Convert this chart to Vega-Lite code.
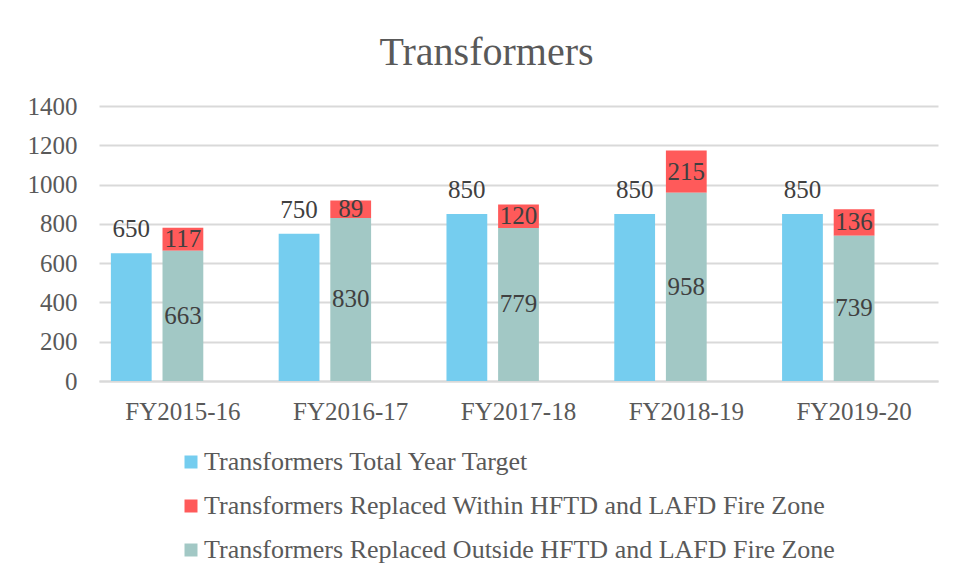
{
  "$schema": "https://vega.github.io/schema/vega-lite/v6.json",
  "autosize": {"type": "none"},
  "width": 839,
  "height": 275,
  "padding": {"left": 99, "top": 106, "right": 16, "bottom": 199},
  "background": "white",
  "title": {
    "text": "Transformers",
    "font": "Liberation Serif",
    "fontSize": 40,
    "fontWeight": "normal",
    "color": "#595959",
    "anchor": "middle",
    "dx": -32,
    "offset": 21
  },
  "config": {
    "view": {"stroke": null},
    "font": "Liberation Serif"
  },
  "data": {
    "values": [
      {"year": "FY2015-16", "series": "Transformers Total Year Target", "slot": "a", "value": 650},
      {"year": "FY2016-17", "series": "Transformers Total Year Target", "slot": "a", "value": 750},
      {"year": "FY2017-18", "series": "Transformers Total Year Target", "slot": "a", "value": 850},
      {"year": "FY2018-19", "series": "Transformers Total Year Target", "slot": "a", "value": 850},
      {"year": "FY2019-20", "series": "Transformers Total Year Target", "slot": "a", "value": 850},
      {"year": "FY2015-16", "series": "Transformers Replaced Within HFTD and LAFD Fire Zone", "slot": "b", "value": 117},
      {"year": "FY2016-17", "series": "Transformers Replaced Within HFTD and LAFD Fire Zone", "slot": "b", "value": 89},
      {"year": "FY2017-18", "series": "Transformers Replaced Within HFTD and LAFD Fire Zone", "slot": "b", "value": 120},
      {"year": "FY2018-19", "series": "Transformers Replaced Within HFTD and LAFD Fire Zone", "slot": "b", "value": 215},
      {"year": "FY2019-20", "series": "Transformers Replaced Within HFTD and LAFD Fire Zone", "slot": "b", "value": 136},
      {"year": "FY2015-16", "series": "Transformers Replaced Outside HFTD and LAFD Fire Zone", "slot": "b", "value": 663},
      {"year": "FY2016-17", "series": "Transformers Replaced Outside HFTD and LAFD Fire Zone", "slot": "b", "value": 830},
      {"year": "FY2017-18", "series": "Transformers Replaced Outside HFTD and LAFD Fire Zone", "slot": "b", "value": 779},
      {"year": "FY2018-19", "series": "Transformers Replaced Outside HFTD and LAFD Fire Zone", "slot": "b", "value": 958},
      {"year": "FY2019-20", "series": "Transformers Replaced Outside HFTD and LAFD Fire Zone", "slot": "b", "value": 739}
    ]
  },
  "encoding": {
    "x": {
      "field": "year",
      "type": "nominal",
      "sort": null,
      "scale": {"paddingInner": 0, "paddingOuter": 0},
      "axis": {
        "title": null,
        "labelAngle": 0,
        "labelFont": "Liberation Serif",
        "labelFontSize": 25,
        "labelColor": "#595959",
        "labelPadding": 18,
        "ticks": false,
        "domainColor": "#D9D9D9",
        "domainWidth": 2,
        "grid": false
      }
    },
    "xOffset": {
      "field": "slot",
      "type": "nominal",
      "scale": {"domain": ["a", "b", "c"], "paddingInner": 0.21, "paddingOuter": 0.23}
    }
  },
  "layer": [
    {
      "transform": [{"filter": "datum.slot === 'a'"}],
      "mark": {"type": "bar"},
      "encoding": {
        "y": {
          "field": "value",
          "type": "quantitative",
          "scale": {"domain": [0, 1400]},
          "axis": {
            "title": null,
            "values": [0, 200, 400, 600, 800, 1000, 1200, 1400],
            "format": "d",
            "labelOverlap": false,
            "labelFont": "Liberation Serif",
            "labelFontSize": 25,
            "labelColor": "#595959",
            "labelPadding": 22,
            "ticks": false,
            "domain": false,
            "gridColor": "#D9D9D9",
            "gridWidth": 2
          }
        },
        "color": {
          "field": "series",
          "type": "nominal",
          "scale": {
            "domain": [
              "Transformers Total Year Target",
              "Transformers Replaced Within HFTD and LAFD Fire Zone",
              "Transformers Replaced Outside HFTD and LAFD Fire Zone"
            ],
            "range": ["#75CDEF", "#FF5A5A", "#A2C8C5"]
          },
          "legend": {
            "title": null,
            "orient": "none",
            "legendX": 79,
            "legendY": 343,
            "direction": "vertical",
            "symbolType": "square",
            "symbolSize": 169,
            "symbolStrokeWidth": 0,
            "symbolOpacity": 1,
            "labelFont": "Liberation Serif",
            "labelFontSize": 26,
            "labelColor": "#595959",
            "labelOffset": 0,
            "labelLimit": 0,
            "rowPadding": 18,
            "padding": 0
          }
        }
      }
    },
    {
      "transform": [{"filter": "datum.slot === 'b'"}],
      "mark": {"type": "bar"},
      "encoding": {
        "y": {
          "field": "value",
          "type": "quantitative",
          "stack": "zero",
          "axis": {
            "title": null,
            "values": [0, 200, 400, 600, 800, 1000, 1200, 1400],
            "format": "d",
            "labelOverlap": false,
            "labelFont": "Liberation Serif",
            "labelFontSize": 25,
            "labelColor": "#595959",
            "labelPadding": 22,
            "ticks": false,
            "domain": false,
            "gridColor": "#D9D9D9",
            "gridWidth": 2
          }
        },
        "color": {"field": "series", "type": "nominal"},
        "order": {"field": "series", "type": "nominal", "sort": "ascending"}
      }
    },
    {
      "transform": [{"filter": "datum.slot === 'a'"}],
      "mark": {"type": "text", "font": "Liberation Serif", "fontSize": 25, "color": "#404040", "baseline": "alphabetic", "dy": -16},
      "encoding": {
        "y": {
          "field": "value",
          "type": "quantitative",
          "axis": {
            "title": null,
            "values": [0, 200, 400, 600, 800, 1000, 1200, 1400],
            "format": "d",
            "labelOverlap": false,
            "labelFont": "Liberation Serif",
            "labelFontSize": 25,
            "labelColor": "#595959",
            "labelPadding": 22,
            "ticks": false,
            "domain": false,
            "gridColor": "#D9D9D9",
            "gridWidth": 2
          }
        },
        "text": {"field": "value", "type": "quantitative"}
      }
    },
    {
      "transform": [{"filter": "datum.slot === 'b'"}],
      "mark": {"type": "text", "font": "Liberation Serif", "fontSize": 25, "color": "#404040", "baseline": "middle"},
      "encoding": {
        "y": {
          "field": "value",
          "type": "quantitative",
          "stack": "zero",
          "bandPosition": 0.5,
          "axis": {
            "title": null,
            "values": [0, 200, 400, 600, 800, 1000, 1200, 1400],
            "format": "d",
            "labelOverlap": false,
            "labelFont": "Liberation Serif",
            "labelFontSize": 25,
            "labelColor": "#595959",
            "labelPadding": 22,
            "ticks": false,
            "domain": false,
            "gridColor": "#D9D9D9",
            "gridWidth": 2
          }
        },
        "detail": {"field": "series", "type": "nominal"},
        "order": {"field": "series", "type": "nominal", "sort": "ascending"},
        "text": {"field": "value", "type": "quantitative"}
      }
    }
  ]
}
